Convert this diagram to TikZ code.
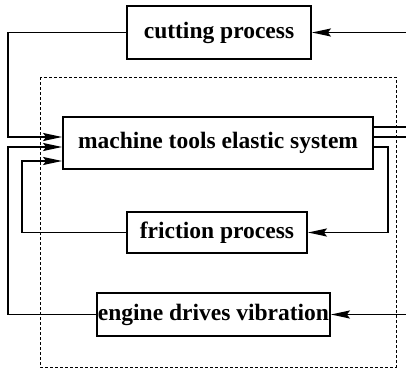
\documentclass[tikz,border=0pt]{standalone}
\usepackage{fontspec}
\setmainfont{Liberation Serif}
\usetikzlibrary{arrows.meta}
\begin{document}
\begin{tikzpicture}[x=1pt,y=-1pt,
  blk/.style={draw,line width=1.8pt,inner sep=0pt,font=\fontsize{23.5}{26}\selectfont\bfseries},
  wire/.style={line width=1.8pt},
  arr/.style={wire,-{Stealth[length=19pt,width=8pt,inset=3pt]}}]
\useasboundingbox (0,0) rectangle (406,369);
\draw[dashed,line width=0.8pt,dash pattern=on 3pt off 2pt] (40,77) rectangle (396,367);
\node[blk,minimum width=184pt,minimum height=53pt] (cut) at (219,32.5) {cutting process};
\node[blk,minimum width=310pt,minimum height=52pt] (mach) at (218,143) {machine tools elastic system};
\node[blk,minimum width=180pt,minimum height=41pt] (fric) at (217,232.5) {friction process};
\node[blk,minimum width=233pt,minimum height=43pt] (eng) at (213.5,314.5) {engine drives vibration};
% inputs from right
\coordinate (inC) at (406,32.5);
\coordinate (inE) at (406,314.5);
\draw[arr] (inC) -- (cut.east);
\draw[arr] (inE) -- (eng.east);
% outputs to right
\coordinate (o1) at (406,127);
\coordinate (o2) at (406,137);
\draw[wire] (o1 -| mach.east) -- (o1);
\draw[wire] (o2 -| mach.east) -- (o2);
% feedback paths
\coordinate (c1) at (8,137);
\coordinate (c2) at (8,147);
\coordinate (c3) at (22,161);
\coordinate (c4) at (388,147);
\draw[arr] (cut.west) -| (c1) -- (c1 -| mach.west);
\draw[arr] (eng.west) -| (c2) -- (c2 -| mach.west);
\draw[arr] (fric.west) -| (c3) -- (c3 -| mach.west);
\draw[arr] (c4 -| mach.east) -- (c4) |- (fric.east);
\end{tikzpicture}
\end{document}
